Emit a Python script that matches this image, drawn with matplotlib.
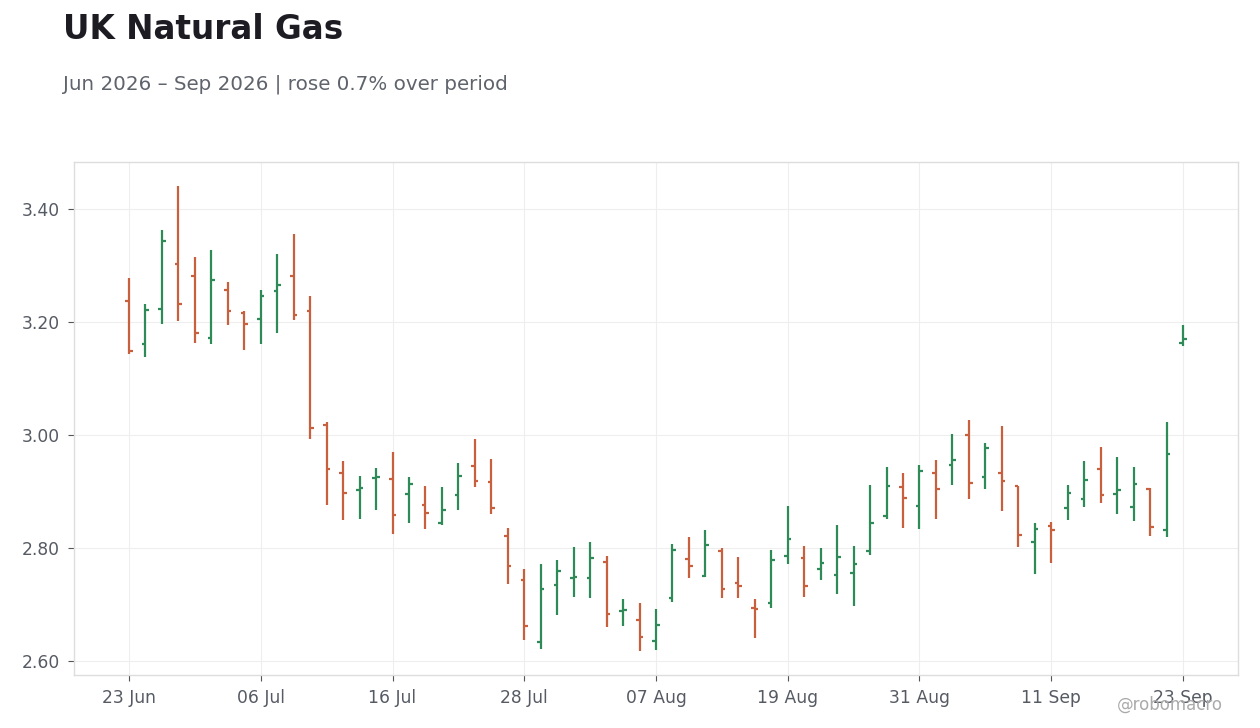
import matplotlib
matplotlib.use("Agg")
import matplotlib.pyplot as plt
import numpy as np
import pandas as pd

# trading days 23 Jun - 23 Sep 2026 (US holidays 3 Jul, 7 Sep skipped)
dates = pd.bdate_range("2026-06-23", "2026-09-23", freq="C",
                       holidays=["2026-07-03", "2026-09-07"])

opens = [3.237, 3.161, 3.223, 3.303, 3.282, 3.172, 3.257, 3.215, 3.205, 3.255,
         3.282, 3.220, 3.017, 2.932, 2.903, 2.924, 2.922, 2.895, 2.876, 2.844,
         2.893, 2.945, 2.916, 2.821, 2.743, 2.633, 2.734, 2.747, 2.746, 2.775,
         2.688, 2.672, 2.635, 2.711, 2.780, 2.750, 2.794, 2.737, 2.693, 2.703,
         2.786, 2.782, 2.763, 2.752, 2.755, 2.794, 2.856, 2.907, 2.875, 2.932,
         2.947, 3.000, 2.926, 2.932, 2.909, 2.810, 2.839, 2.870, 2.886, 2.939,
         2.895, 2.872, 2.904, 2.831, 3.162]
highs = [3.278, 3.231, 3.363, 3.441, 3.314, 3.328, 3.271, 3.220, 3.257, 3.321,
         3.356, 3.245, 3.023, 2.954, 2.927, 2.942, 2.969, 2.926, 2.910, 2.907,
         2.951, 2.992, 2.958, 2.836, 2.762, 2.772, 2.778, 2.802, 2.811, 2.786,
         2.709, 2.703, 2.691, 2.806, 2.820, 2.831, 2.800, 2.783, 2.710, 2.797,
         2.875, 2.804, 2.799, 2.840, 2.804, 2.912, 2.944, 2.933, 2.947, 2.956,
         3.002, 3.027, 2.986, 3.015, 2.909, 2.844, 2.846, 2.912, 2.953, 2.979,
         2.960, 2.944, 2.906, 3.023, 3.195]
lows = [3.143, 3.137, 3.197, 3.202, 3.163, 3.160, 3.195, 3.151, 3.160, 3.181,
        3.204, 2.992, 2.876, 2.849, 2.851, 2.867, 2.824, 2.844, 2.833, 2.840,
        2.867, 2.907, 2.860, 2.736, 2.637, 2.621, 2.681, 2.713, 2.711, 2.660,
        2.661, 2.617, 2.619, 2.704, 2.746, 2.749, 2.711, 2.711, 2.640, 2.693,
        2.771, 2.713, 2.743, 2.718, 2.697, 2.787, 2.851, 2.836, 2.833, 2.852,
        2.911, 2.886, 2.904, 2.865, 2.801, 2.754, 2.774, 2.850, 2.872, 2.879,
        2.860, 2.847, 2.821, 2.819, 3.157]
closes = [3.148, 3.221, 3.344, 3.232, 3.180, 3.275, 3.220, 3.196, 3.246, 3.266,
          3.212, 3.012, 2.940, 2.898, 2.906, 2.926, 2.859, 2.913, 2.861, 2.867,
          2.927, 2.918, 2.871, 2.768, 2.662, 2.727, 2.759, 2.749, 2.782, 2.683,
          2.690, 2.642, 2.663, 2.796, 2.768, 2.805, 2.728, 2.733, 2.691, 2.778,
          2.815, 2.733, 2.774, 2.784, 2.771, 2.844, 2.909, 2.889, 2.936, 2.905,
          2.956, 2.914, 2.976, 2.918, 2.823, 2.834, 2.832, 2.897, 2.920, 2.893,
          2.902, 2.913, 2.837, 2.966, 3.170]

tick_idx = list(range(0, 65, 8))
tick_labels = [dates[i].strftime("%d %b") for i in tick_idx]

UP = "#2e8b57"
DOWN = "#c8603e"

fig = plt.figure(figsize=(12.6, 7.28), dpi=100)
ax = fig.add_axes([74 / 1260, 1 - 675 / 728, (1238 - 74) / 1260, (675 - 162) / 728])

x = np.arange(len(opens))
o = np.array(opens)
c = np.array(closes)
cols = [UP if cc >= oo else DOWN for oo, cc in zip(o, c)]
w = 0.22
ax.vlines(x, lows, highs, colors=cols, linewidth=1.6, zorder=3)
ax.hlines(o, x - w, x, colors=cols, linewidth=1.6, zorder=3)
ax.hlines(c, x, x + w, colors=cols, linewidth=1.6, zorder=3)

ax.set_xlim(-3.34, 67.34)
ax.set_ylim(2.575, 3.483)
ax.set_xticks(tick_idx)
ax.set_xticklabels(tick_labels)
ax.set_yticks([2.6, 2.8, 3.0, 3.2, 3.4])
ax.set_yticklabels(["%.2f" % v for v in [2.6, 2.8, 3.0, 3.2, 3.4]])
ax.grid(True, color="#eeeeee", linewidth=0.8, zorder=0)
ax.set_axisbelow(True)
for s in ax.spines.values():
    s.set_color("#dddddd")
    s.set_linewidth(1)
ax.tick_params(axis="both", length=4, color="#555555", labelcolor="#555a63",
               labelsize=12.3, pad=6)

fig.text(63 / 1260, 1 - 13 / 728, "UK Natural Gas", fontsize=23.5, fontweight="bold",
         color="#1c1c22", va="top", ha="left")
fig.text(63 / 1260, 1 - 75 / 728, "Jun 2026 \u2013 Sep 2026 | rose 0.7% over period",
         fontsize=14.3, color="#5f636b", va="top", ha="left")
fig.text(1170 / 1260, 1 - 705 / 728, "@robomacro", fontsize=12, color="#aaaaaa",
         ha="center", va="center")

fig.savefig("out.png", dpi=100)
